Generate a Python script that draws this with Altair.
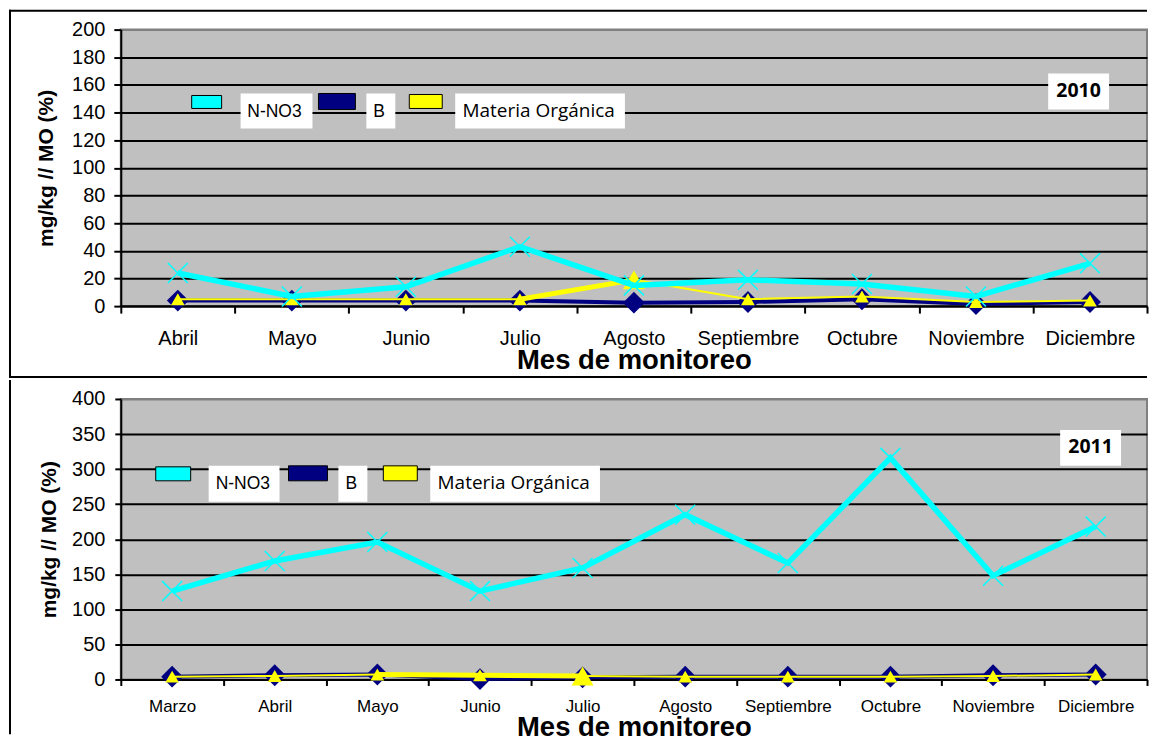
import altair as alt
import pandas as pd

# ---------------- data ----------------
meses_2010 = ["Abril", "Mayo", "Junio", "Julio", "Agosto", "Septiembre",
              "Octubre", "Noviembre", "Diciembre"]
nno3_2010 = [24, 7, 14, 43, 15, 19, 16, 7, 31]
b_2010 = [4, 4, 4, 4, 2.5, 3, 5, 1.5, 3]
mo_2010 = [5, 5, 5, 5, 19, 5, 7, 3, 4]

meses_2011 = ["Marzo", "Abril", "Mayo", "Junio", "Julio", "Agosto",
              "Septiembre", "Octubre", "Noviembre", "Diciembre"]
nno3_2011 = [126, 169, 196, 126, 159, 235, 166, 316, 148, 218]
b_2011 = [4, 6, 7, 0.5, 3, 4, 4, 4, 6, 7]
mo_2011 = [4, 5, 7, 6, 5, 4, 4, 4, 5, 7]

series = ["N-NO3", "B", "Materia Orgánica"]
years = ["2010", "2011"]

# ---------------- styles ----------------
C_NNO3 = "#00FFFF"
C_B = "#000080"
C_MO = "#FFFF00"
colores = [C_NNO3, C_B, C_MO]
XSHAPE = "M-1,-1L1,1M-1,1L1,-1"


def panel(meses, nno3, b, mo, year, ymax, ystep, W, H, lab_fs, lab_pad, tick,
          ytick_pad, ytitle_x, xtitle_y, frame, boxes, lbg, ltxt, ybox, ytxt,
          thick_months, big_month):
    df = pd.DataFrame({"mes": meses, "nno3": nno3, "b": b, "mo": mo})

    x = alt.X(
        "mes:N", sort=meses, bandPosition=0.5,
        scale=alt.Scale(type="band", paddingInner=0, paddingOuter=0),
        axis=alt.Axis(
            title="Mes de monitoreo", labelAngle=0, labelFont="Liberation Sans",
            labelFontSize=lab_fs, labelColor="black", labelPadding=lab_pad,
            labelOverlap=False, tickBand="extent", tickSize=tick, tickWidth=2,
            tickColor="black", domainColor="black", domainWidth=2, grid=False,
            titleFont="Liberation Sans", titleFontSize=27.5, titleFontWeight="bold",
            titleColor="black", titleY=xtitle_y, titleBaseline="alphabetic",
        ),
    )

    def yenc(field):
        return alt.Y(
            f"{field}:Q",
            scale=alt.Scale(domain=[0, ymax], nice=False, zero=True),
            axis=alt.Axis(
                title="mg/kg // MO (%)", values=list(range(0, ymax + 1, ystep)),
                labelFont="Liberation Sans", labelFontSize=20, labelColor="black",
                labelPadding=ytick_pad, tickSize=tick, tickWidth=2, tickColor="black",
                domainColor="black", domainWidth=2, grid=True,
                gridColor={"expr": f"datum.value == {ymax} ? '#808080' : 'black'"},
                gridWidth=2, titleFont="Liberation Sans", titleFontSize=21,
                titleFontWeight="bold", titleColor="black", titleX=ytitle_x,
                titleBaseline="alphabetic",
            ),
        )

    base = alt.Chart(df).encode(x=x)

    b_line = base.mark_line(color=C_B, strokeWidth=4).encode(y=yenc("b"))
    b_pts = base.mark_point(shape="diamond", filled=True, color=C_B, size=480,
                            opacity=1).encode(y=yenc("b"))
    mo_line = base.mark_line(color=C_MO, strokeWidth=2).encode(y=yenc("mo"))
    mo_thick = base.mark_line(color=C_MO, strokeWidth=5).encode(
        y=yenc("mo")).transform_filter(
        alt.FieldOneOfPredicate(field="mes", oneOf=thick_months))
    mo_pts = base.mark_point(shape="triangle-up", filled=True, color=C_MO,
                             size=190, opacity=1).encode(y=yenc("mo"))
    mo_big = base.mark_point(shape="triangle-up", filled=True, color=C_MO,
                             size=480, opacity=1).encode(
        y=yenc("mo")).transform_filter(
        alt.FieldEqualPredicate(field="mes", equal=big_month))
    n_line = base.mark_line(color=C_NNO3, strokeWidth=5.5).encode(y=yenc("nno3"))
    n_pts = base.mark_point(shape=XSHAPE, filled=False, color=C_NNO3, size=400,
                            strokeWidth=1.5, opacity=1).encode(y=yenc("nno3"))

    # frame (bounds of the panel) and its visible lines, drawn as thin rects
    fx1, fx2, fy1, fy2 = frame
    one = pd.DataFrame({"k": [0]})

    def bar(x1, x2, y1, y2, **kw):
        return alt.Chart(one).mark_rect(**kw).encode(
            x=alt.value(x1), x2=alt.value(x2), y=alt.value(y1), y2=alt.value(y2))

    layers = [bar(fx1, fx2, fy1, fy2, opacity=0)]
    if year == "2010":
        layers.append(bar(fx1, fx2, fy1, fy1 + 2, fill="black"))
        layers.append(bar(fx1, fx2, fy2 - 2, fy2, fill="black"))
    layers.append(bar(fx1, fx1 + 2, fy1, fy2, fill="black"))

    layers += [b_line, b_pts, mo_line, mo_thick, mo_pts, mo_big, n_line, n_pts]

    # in-plot legend, Excel style
    for i, s in enumerate(series):
        sd = pd.DataFrame({"serie": [s]})
        bx = boxes[i]
        layers.append(alt.Chart(sd).mark_rect(fill=colores[i], stroke="black",
                                              strokeWidth=1).encode(
            x=alt.value(bx[0]), x2=alt.value(bx[1]), y=alt.value(bx[2]),
            y2=alt.value(bx[3])))
        lb = lbg[i]
        layers.append(alt.Chart(sd).mark_rect(fill="white").encode(
            x=alt.value(lb[0]), x2=alt.value(lb[1]), y=alt.value(lb[2]),
            y2=alt.value(lb[3])))
        font = "Open Sans" if i == 2 else "Liberation Sans"
        fs = 19 if i == 2 else 17.5
        layers.append(alt.Chart(sd).mark_text(
            font=font, fontSize=fs, color="black", align="left",
            baseline="alphabetic").encode(
            text="serie:N", x=alt.value(ltxt[i][0]), y=alt.value(ltxt[i][1])))

    yd = pd.DataFrame({"anio": [year]})
    layers.append(alt.Chart(yd).mark_rect(fill="white").encode(
        x=alt.value(ybox[0]), x2=alt.value(ybox[1]), y=alt.value(ybox[2]),
        y2=alt.value(ybox[3])))
    layers.append(alt.Chart(yd).mark_text(
        font="Open Sans", fontSize=19.5, fontWeight="bold", color="black",
        align="center", baseline="alphabetic").encode(
        text="anio:N", x=alt.value(ytxt[0]), y=alt.value(ytxt[1])))

    return alt.layer(*layers).properties(width=W, height=H)


# panel-1 geometry relative to a plot origin at page (120, 28)
d = 5
p1 = panel(meses_2010, nno3_2010, b_2010, mo_2010, years[0], 200, 20,
           W=1028, H=277, lab_fs=20, lab_pad=15, tick=7, ytick_pad=9,
           ytitle_x=-63.5 - d, xtitle_y=62,
           frame=(-112, 1028, -20, 349),
           boxes=[(76 - d, 106 - d, 66, 79), (203 - d, 240 - d, 64, 80),
                  (294 - d, 327 - d, 65, 79)],
           lbg=[(125 - d, 197 - d, 64, 99), (251 - d, 280 - d, 64, 99),
                (340 - d, 510 - d, 64, 99)],
           ltxt=[(131.7 - d, 87.7), (258 - d, 87.7), (347.3 - d, 87.7)],
           ybox=(934 - d, 995 - d, 44, 80), ytxt=(964.5 - d, 67.7),
           thick_months=["Julio", "Agosto"], big_month="Agosto")

p2 = panel(meses_2011, nno3_2011, b_2011, mo_2011, years[1], 400, 50,
           W=1028, H=281, lab_fs=17, lab_pad=13, tick=6, ytick_pad=10,
           ytitle_x=-65, xtitle_y=56,
           frame=(-112, 1028, -19, 336),
           boxes=[(35, 70, 68, 82), (168, 207, 67, 82), (263, 297, 67, 82)],
           lbg=[(88, 159, 67, 103), (218, 247, 67, 103), (310, 480, 67, 103)],
           ltxt=[(95, 90), (225, 90), (317.3, 90)],
           ybox=(941, 1002, 31, 67), ytxt=(971.5, 54),
           thick_months=["Mayo", "Junio", "Julio"], big_month="Julio")

chart = alt.vconcat(p1, p2, spacing=0).resolve_scale(
    x="independent", y="independent").properties(
    padding=0, background="white").configure_view(
    fill="#C0C0C0", stroke="#808080", strokeWidth=2)

chart.save("out.html", embed_options={"renderer": "svg", "actions": False})
